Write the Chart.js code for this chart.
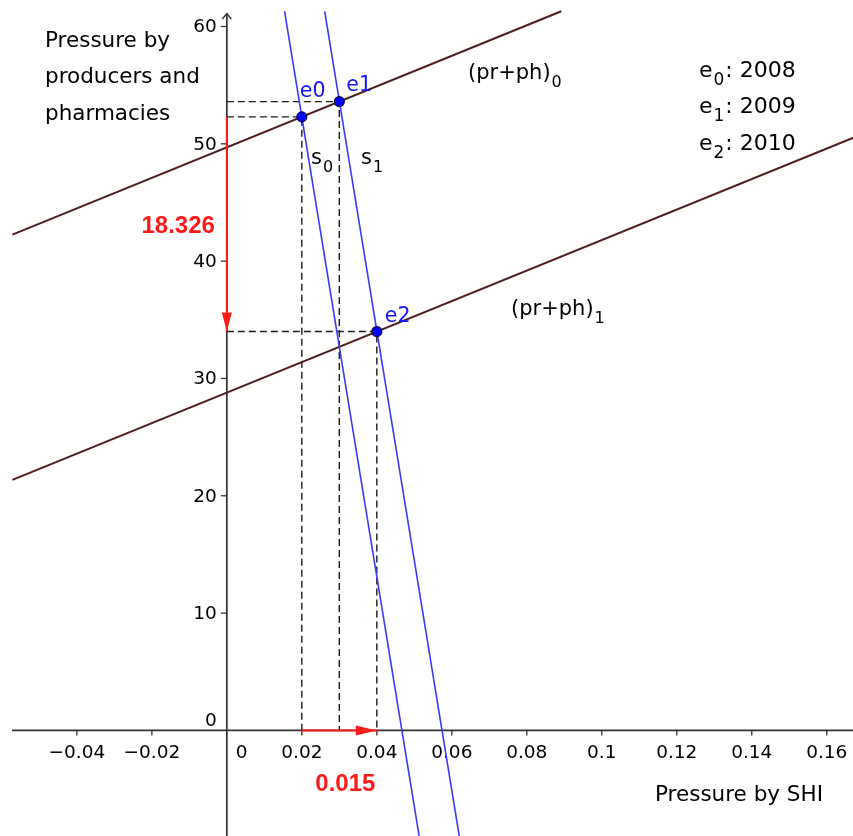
<!DOCTYPE html>
<html>
<head>
<meta charset="utf-8">
<script src="https://cdn.jsdelivr.net/npm/chart.js@4.4.1/dist/chart.umd.min.js"></script>
<style>
  html, body { margin: 0; padding: 0; background: #fff; overflow: hidden; }
  #wrap { width: 853px; height: 836px; }
</style>
</head>
<body>
<div id="wrap"><canvas id="c" width="853" height="836"></canvas></div>
<script>
  // tick labels
  const xTicks = [-0.04, -0.02, 0.02, 0.04, 0.06, 0.08, 0.1, 0.12, 0.14, 0.16];
  const yTicks = [10, 20, 30, 40, 50, 60];

  // equilibria e0 (2008), e1 (2009), e2 (2010)
  const eqNames = ["e0", "e1", "e2"];
  const eqYears = ["2008", "2009", "2010"];
  const eqX = [0.02, 0.03, 0.04];
  const eqY = [52.3, 53.6, 34.0];

  // (pr+ph)0 and (pr+ph)1 lines, end points
  const pp0X = [-0.0572, 0.0892];
  const pp0Y = [42.26, 61.3];
  const pp1X = [-0.0572, 0.17];
  const pp1Y = [21.36, 50.9];

  // s0 and s1 lines, end points
  const s0X = [0.0154, 0.0518];
  const s0Y = [61.3, -10];
  const s1X = [0.0261, 0.0625];
  const s1Y = [61.3, -10];

  // red shift arrows
  const shiftY = [52.3, 34.0];
  const shiftX = [0.02, 0.04];
  const shiftYLabel = "18.326";
  const shiftXLabel = "0.015";

  const SANS = '"DejaVu Sans", sans-serif';
  const BOLD = '"Liberation Sans", Arial, sans-serif';
  const BROWN = "#4e1e1e";
  const BLUE = "#3a3aff";
  const RED = "#ff1a1a";

  const pts = (xs, ys) => xs.map((x, i) => ({ x: x, y: ys[i] }));
  const fmt = (v) => (v < 0 ? "\u2212" + Math.abs(v) : String(v));

  function line(data, color, width, dash, order) {
    return {
      data: data, showLine: true, borderColor: color, borderWidth: width,
      borderDash: dash || [], pointRadius: 0, pointHoverRadius: 0,
      fill: false, order: order
    };
  }

  // dashed guides from each equilibrium to both axes
  const guides = eqX.map((x, i) =>
    line([{ x: 0, y: eqY[i] }, { x: x, y: eqY[i] }, { x: x, y: 0 }], "#1a1a1a", 1.4, [7, 4], 5)
  );

  function subText(ctx, base, sub, x, y, size, color, after) {
    ctx.fillStyle = color;
    ctx.textAlign = "left";
    ctx.textBaseline = "alphabetic";
    ctx.font = size + "px " + SANS;
    ctx.fillText(base, x, y);
    let cx = x + ctx.measureText(base).width + 1;
    ctx.font = Math.round(size * 0.75) + "px " + SANS;
    ctx.fillText(sub, cx, y + size * 0.36);
    cx += ctx.measureText(sub).width + 1;
    if (after) {
      ctx.font = size + "px " + SANS;
      ctx.fillText(after, cx, y);
    }
  }

  // axes through the origin, with ticks and labels placed by the scales
  const axes = {
    id: "axes",
    beforeDatasetsDraw(chart) {
      const { ctx } = chart;
      const sx = chart.scales.x, sy = chart.scales.y;
      const x0 = sx.getPixelForValue(0), y0 = sy.getPixelForValue(0);
      ctx.save();
      ctx.strokeStyle = "#333";
      ctx.lineWidth = 1.7;
      ctx.beginPath();
      ctx.moveTo(12, y0); ctx.lineTo(chart.width, y0);
      ctx.moveTo(x0, chart.height); ctx.lineTo(x0, 13.5);
      ctx.stroke();
      ctx.lineWidth = 1.4;
      ctx.beginPath();
      ctx.moveTo(x0 - 4.5, 19); ctx.lineTo(x0, 13.5); ctx.lineTo(x0 + 4.5, 19);
      ctx.stroke();

      ctx.lineWidth = 1.3;
      ctx.fillStyle = "#000";
      ctx.font = "18.5px " + SANS;
      ctx.textBaseline = "alphabetic";
      ctx.textAlign = "center";
      xTicks.forEach((v) => {
        const p = sx.getPixelForValue(v);
        ctx.beginPath(); ctx.moveTo(p, y0); ctx.lineTo(p, y0 + 5); ctx.stroke();
        ctx.fillText(fmt(v), p, y0 + 27.5);
      });
      ctx.textAlign = "right";
      ctx.textBaseline = "middle";
      yTicks.forEach((v) => {
        const p = sy.getPixelForValue(v);
        ctx.beginPath(); ctx.moveTo(x0, p); ctx.lineTo(x0 - 6, p); ctx.stroke();
        ctx.fillText(fmt(v), x0 - 10, p + 1);
      });
      // zero labels
      ctx.textBaseline = "alphabetic";
      ctx.fillText("0", x0 - 10, y0 - 4);
      ctx.textAlign = "left";
      ctx.fillText("0", x0 + 9, y0 + 27.5);
      ctx.restore();
    }
  };

  const notes = {
    id: "notes",
    afterDatasetsDraw(chart) {
      const { ctx } = chart;
      const sx = chart.scales.x, sy = chart.scales.y;
      const px = (v) => sx.getPixelForValue(v), py = (v) => sy.getPixelForValue(v);
      const x0 = px(0), y0 = py(0);
      ctx.save();

      // arrow heads
      ctx.fillStyle = RED;
      const ty = py(shiftY[1]);
      ctx.beginPath();
      ctx.moveTo(x0, ty); ctx.lineTo(x0 - 5, ty - 19); ctx.lineTo(x0 + 5, ty - 19);
      ctx.closePath(); ctx.fill();
      const tx = px(shiftX[1]);
      ctx.beginPath();
      ctx.moveTo(tx, y0); ctx.lineTo(tx - 21, y0 - 5); ctx.lineTo(tx - 21, y0 + 5);
      ctx.closePath(); ctx.fill();

      // red values
      ctx.font = "bold 24px " + BOLD;
      ctx.textBaseline = "alphabetic";
      ctx.textAlign = "right";
      ctx.fillText(shiftYLabel, x0 - 12, 233);
      ctx.textAlign = "center";
      ctx.fillText(shiftXLabel, (px(shiftX[0]) + px(shiftX[1])) / 2 + 6, 791);

      // equilibrium labels near points
      ctx.fillStyle = "#1414ff";
      ctx.font = "20.5px " + SANS;
      ctx.textAlign = "left";
      const offs = [[-2, -20], [7, -11], [8, -10]];
      eqNames.forEach((n, i) => {
        ctx.fillText(n, px(eqX[i]) + offs[i][0], py(eqY[i]) + offs[i][1]);
      });

      // line names
      subText(ctx, "s", "0", 311, 164, 21, "#000");
      subText(ctx, "s", "1", 361, 164, 21, "#000");
      subText(ctx, "(pr+ph)", "0", 468, 79, 21, "#000");
      subText(ctx, "(pr+ph)", "1", 511, 315, 21, "#000");

      // legend of years
      eqYears.forEach((yr, i) => {
        subText(ctx, "e", String(i), 699, 77 + i * 36.3, 22, "#000", ": " + yr);
      });

      // axis titles
      ctx.fillStyle = "#000";
      ctx.font = "21.5px " + SANS;
      ctx.textAlign = "left";
      ctx.fillText("Pressure by", 45, 47);
      ctx.fillText("producers and", 45, 83);
      ctx.fillText("pharmacies", 45, 120);
      ctx.fillText("Pressure by SHI", 655, 801);
      ctx.restore();
    }
  };

  new Chart(document.getElementById("c"), {
    type: "scatter",
    data: {
      datasets: [
        {
          data: pts(eqX, eqY), pointRadius: 5, pointBackgroundColor: "#0000ff",
          pointBorderColor: "#101040", pointBorderWidth: 1.2, showLine: false, order: 0
        },
        line(pts([0, 0], shiftY), RED, 2, [], 1),
        line(pts(shiftX, [0, 0]), RED, 2, [], 1),
        line(pts(s0X, s0Y), BLUE, 1.6, [], 3),
        line(pts(s1X, s1Y), BLUE, 1.6, [], 3),
        line(pts(pp0X, pp0Y), BROWN, 2, [], 4),
        line(pts(pp1X, pp1Y), BROWN, 2, [], 4),
        ...guides
      ]
    },
    options: {
      responsive: false,
      animation: false,
      devicePixelRatio: 1,
      layout: { padding: 0, autoPadding: false },
      plugins: { legend: { display: false }, tooltip: { enabled: false } },
      scales: {
        x: { type: "linear", min: -0.0605, max: 0.167, display: false },
        y: { type: "linear", min: -9.0, max: 62.26, display: false }
      }
    },
    plugins: [axes, notes]
  });
</script>
</body>
</html>
